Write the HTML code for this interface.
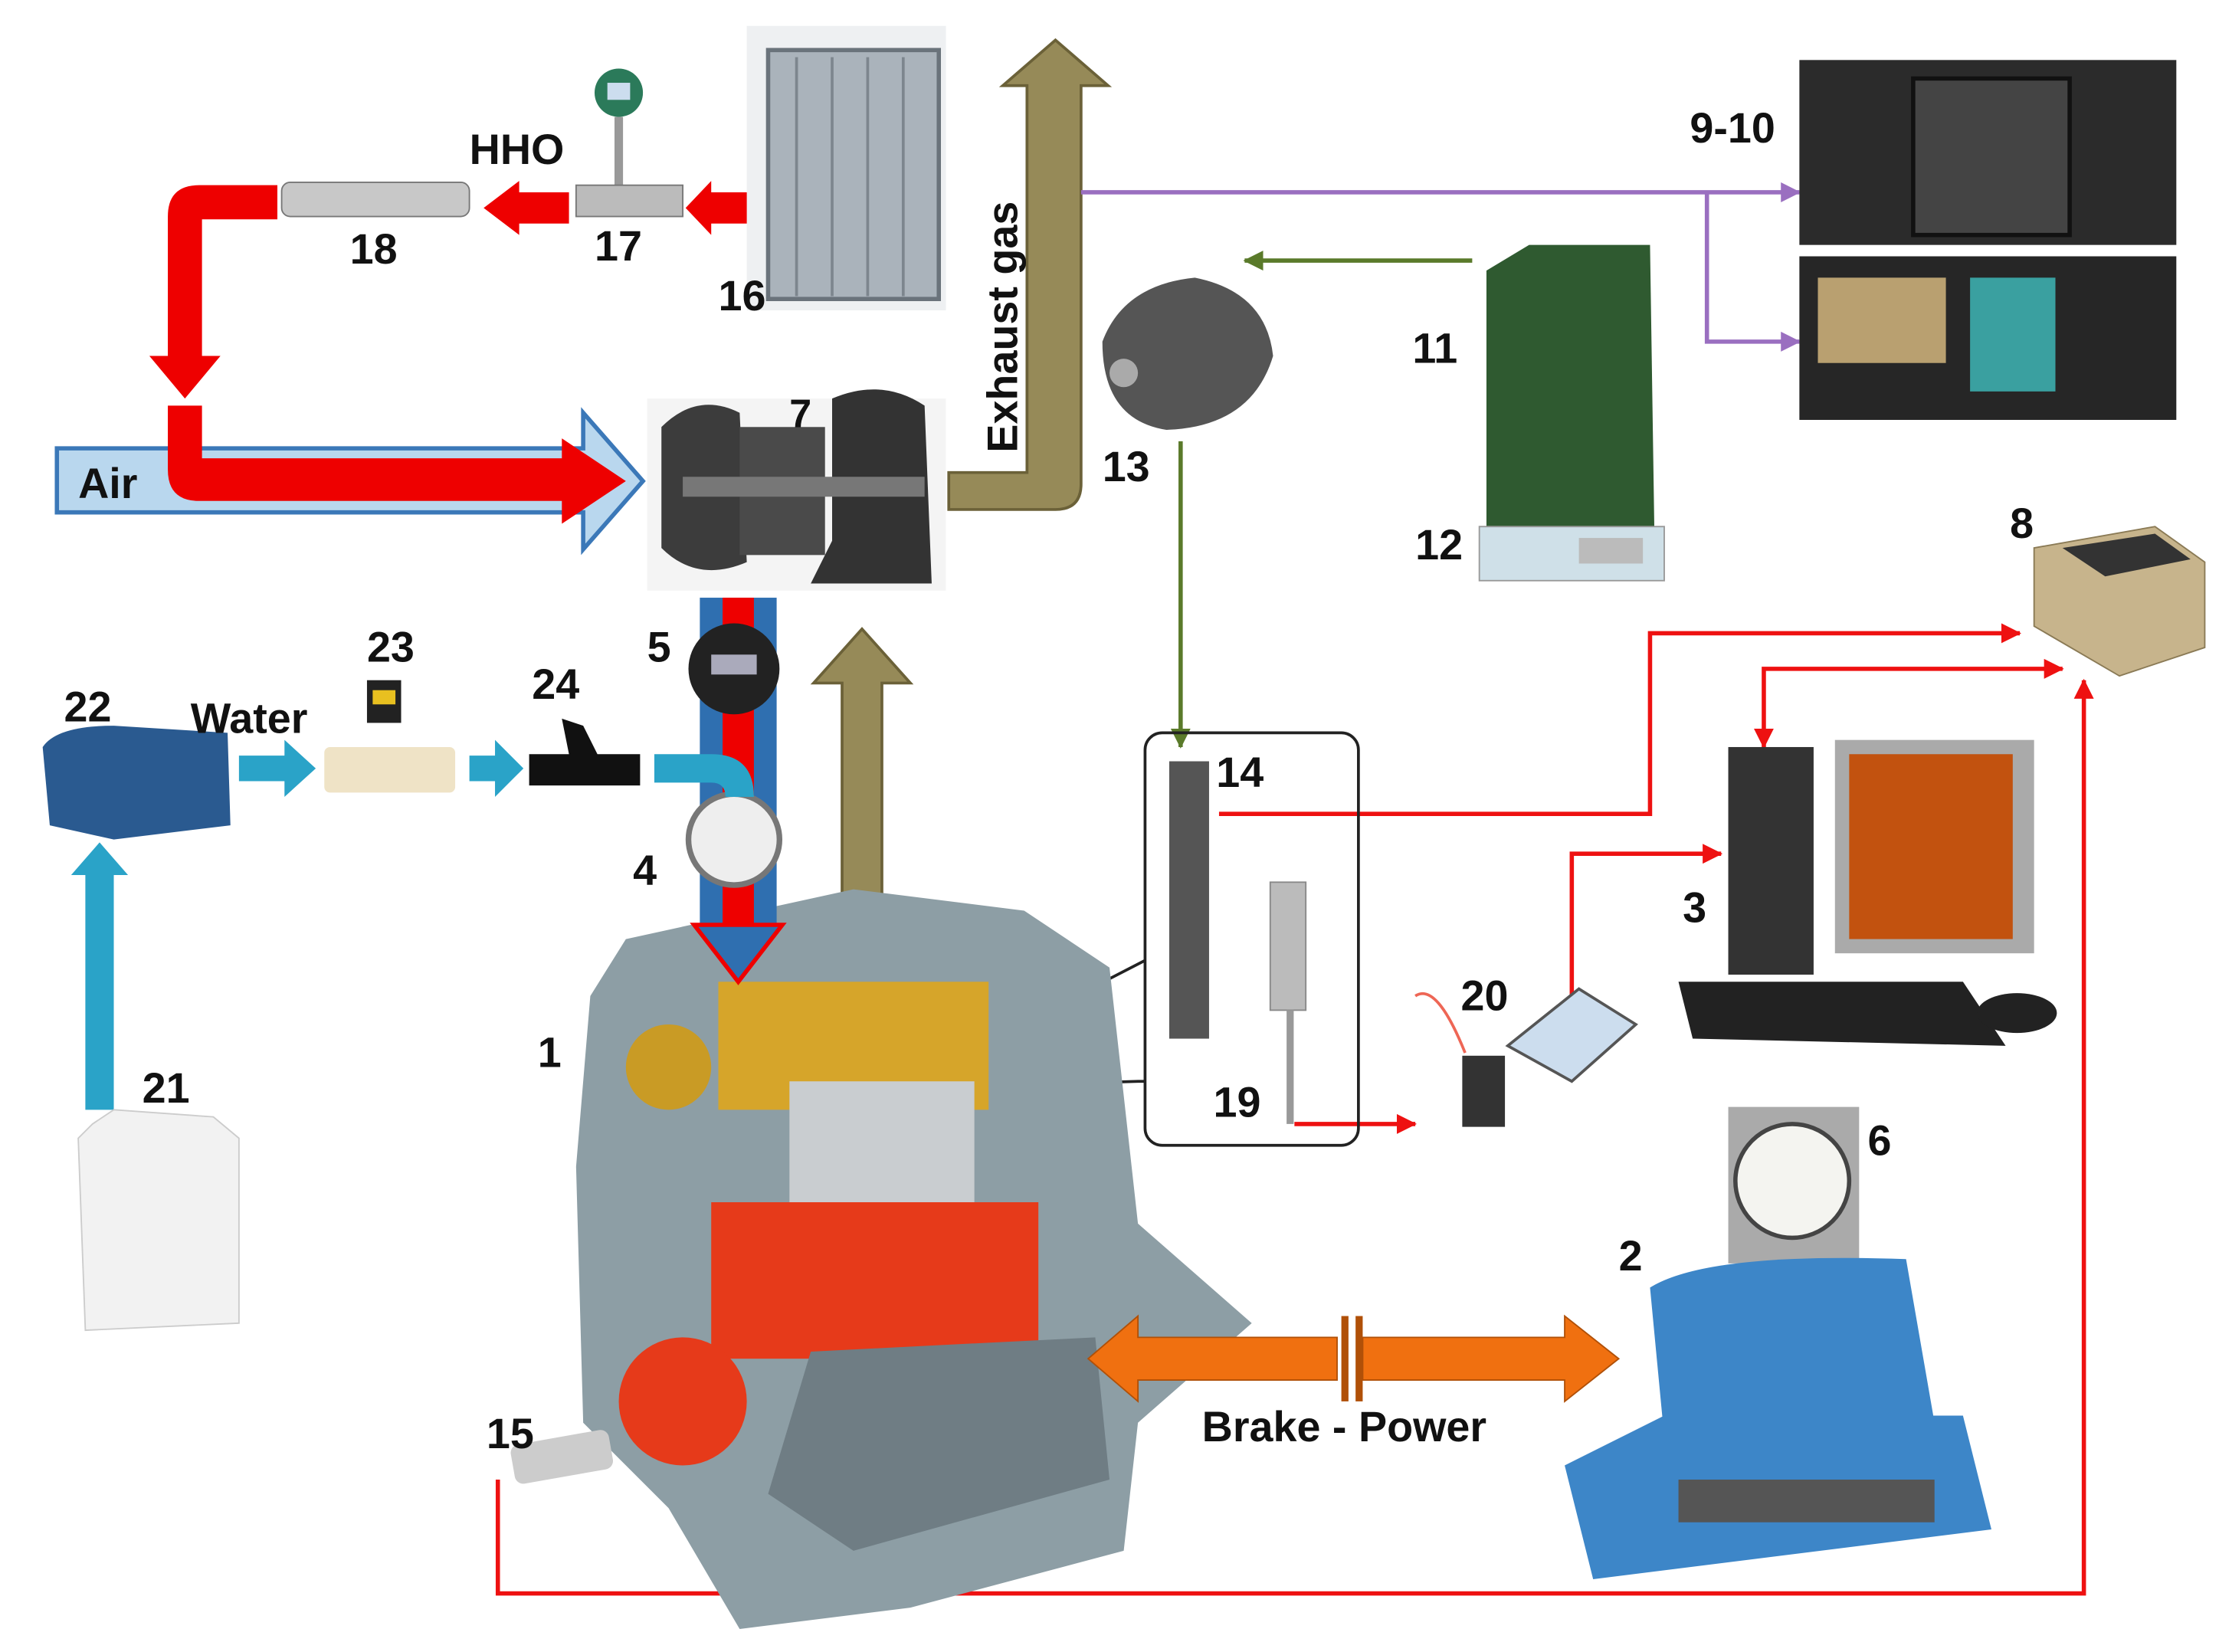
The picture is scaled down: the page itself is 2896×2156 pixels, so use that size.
<!DOCTYPE html>
<html><head><meta charset="utf-8"><style>
html,body{margin:0;padding:0;background:#fff}
svg{display:block}
text{font-family:"Liberation Sans",sans-serif;font-weight:bold;fill:#111}
</style></head><body>
<svg width="2896" height="2156" viewBox="0 0 1560 1161" xmlns="http://www.w3.org/2000/svg">
<defs>
<marker id="rh" markerWidth="8" markerHeight="8" refX="7" refY="4" orient="auto" markerUnits="userSpaceOnUse"><path d="M0,0 L8,4 L0,8z" fill="#e11"/></marker>
<marker id="rhb" markerWidth="14" markerHeight="14" refX="13" refY="7" orient="auto" markerUnits="userSpaceOnUse"><path d="M0,0 L14,7 L0,14z" fill="#e11"/></marker>
<marker id="rhs" markerWidth="14" markerHeight="14" refX="1" refY="7" orient="auto" markerUnits="userSpaceOnUse"><path d="M14,0 L0,7 L14,14z" fill="#e11"/></marker>
<marker id="ph" markerWidth="14" markerHeight="14" refX="13" refY="7" orient="auto" markerUnits="userSpaceOnUse"><path d="M0,0 L14,7 L0,14z" fill="#9a6fc0"/></marker>
<marker id="gh" markerWidth="14" markerHeight="14" refX="13" refY="7" orient="auto" markerUnits="userSpaceOnUse"><path d="M0,0 L14,7 L0,14z" fill="#5a7a2a"/></marker>
</defs>
<rect width="1560" height="1161" fill="#fff"/>

<!-- HHO electrolyzer 16 -->
<rect x="525" y="18" width="140" height="200" fill="#eef0f2"/>
<rect x="540" y="35" width="120" height="175" fill="#aab3bb" stroke="#6a737b" stroke-width="3"/>
<g stroke="#7d868e" stroke-width="2"><line x1="560" y1="40" x2="560" y2="208"/><line x1="585" y1="40" x2="585" y2="208"/><line x1="610" y1="40" x2="610" y2="208"/><line x1="635" y1="40" x2="635" y2="208"/></g>
<!-- 17 flowmeter -->
<circle cx="435" cy="65" r="17" fill="#2b7a5a"/><rect x="427" y="58" width="16" height="12" fill="#cde"/>
<rect x="432" y="82" width="6" height="50" fill="#999"/>
<rect x="405" y="130" width="75" height="22" fill="#bbb" stroke="#777"/>
<!-- 18 -->
<rect x="198" y="128" width="132" height="24" rx="6" fill="#c8c8c8" stroke="#777"/>
<!-- red HHO arrows -->
<path d="M525,135 L525,157 L500,157 L500,165 L482,146 L500,127 L500,135z" fill="#e00"/>
<path d="M400,135 L400,157 L365,157 L365,165 L340,146 L365,127 L365,135z" fill="#e00"/>
<!-- red loop down -->
<path d="M195,130 L140,130 Q118,130 118,152 L118,250 L105,250 L130,280 L155,250 L142,250 L142,154 L195,154z" fill="#e00"/>

<!-- Air arrow -->
<path d="M40,315 L410,315 L410,290 L452,338 L410,386 L410,360 L40,360z" fill="#b9d7ee" stroke="#3b78b8" stroke-width="3"/>
<path d="M118,285 L142,285 L142,322 L395,322 L395,308 L440,338 L395,368 L395,352 L140,352 Q118,352 118,330z" fill="#e00"/>
<text x="55" y="350" font-size="30">Air</text>

<!-- Turbo 7 -->
<rect x="455" y="280" width="210" height="135" fill="#f4f4f4"/>
<path d="M465,300 Q490,275 520,290 L525,395 Q490,410 465,385z" fill="#3c3c3c"/>
<rect x="520" y="300" width="60" height="90" fill="#4a4a4a"/>
<path d="M585,280 Q620,265 650,285 L655,410 L570,410 L585,380z" fill="#333"/>
<rect x="480" y="335" width="170" height="14" fill="#777"/>
<text x="555" y="300" font-size="28">7</text>

<!-- Exhaust -->
<path d="M667,332 L722,332 L722,60 L705,60 L742,28 L779,60 L760,60 L760,340 Q760,358 742,358 L667,358z" fill="#968a58" stroke="#6b6138" stroke-width="2"/>
<text transform="translate(715,318) rotate(-90)" font-size="30">Exhaust gas</text>
<path d="M592,640 L592,480 L572,480 L606,442 L640,480 L620,480 L620,640z" fill="#968a58" stroke="#6b6138" stroke-width="2"/>

<!-- purple -->
<line x1="760" y1="135" x2="1265" y2="135" stroke="#9a6fc0" stroke-width="3" marker-end="url(#ph)"/>
<polyline points="1200,135 1200,240 1265,240" fill="none" stroke="#9a6fc0" stroke-width="3" marker-end="url(#ph)"/>
<!-- 9-10 -->
<rect x="1265" y="42" width="265" height="130" fill="#2b2b2b"/>
<rect x="1345" y="55" width="110" height="110" fill="#444" stroke="#111" stroke-width="3"/>
<rect x="1265" y="180" width="265" height="115" fill="#262626"/>
<rect x="1278" y="195" width="90" height="60" fill="#b9a070"/>
<g fill="#3aa0a0"><rect x="1385" y="195" width="60" height="80"/></g>
<text x="1188" y="100" font-size="30">9-10</text>

<!-- green fuel -->
<line x1="1035" y1="183" x2="875" y2="183" stroke="#5a7a2a" stroke-width="3" marker-end="url(#gh)"/>
<line x1="830" y1="310" x2="830" y2="525" stroke="#5a7a2a" stroke-width="3" marker-end="url(#gh)"/>
<!-- pump 13 -->
<path d="M775,240 Q790,200 840,195 Q890,205 895,250 Q880,300 820,302 Q775,295 775,240z" fill="#555"/>
<circle cx="790" cy="262" r="10" fill="#aaa"/>
<text x="775" y="338" font-size="30">13</text>
<!-- jerry can 11 -->
<path d="M1045,190 L1075,172 L1160,172 L1163,370 L1045,370z" fill="#2f5a30"/>
<rect x="1040" y="370" width="130" height="38" fill="#cfe0e8" stroke="#999"/>
<rect x="1110" y="378" width="45" height="18" fill="#bbb"/>
<text x="993" y="255" font-size="30">11</text>
<text x="995" y="393" font-size="30">12</text>

<!-- 8 -->
<path d="M1430,385 L1515,370 L1550,395 L1550,455 L1490,475 L1430,440z" fill="#c7b48c" stroke="#8a7a55"/>
<path d="M1450,385 L1515,375 L1540,393 L1480,405z" fill="#333"/>
<text x="1413" y="378" font-size="30">8</text>

<!-- red signal lines -->
<polyline points="857,572 1160,572 1160,445 1420,445" fill="none" stroke="#e11" stroke-width="3" marker-end="url(#rhb)"/>
<polyline points="1240,525 1240,470 1450,470" fill="none" stroke="#e11" stroke-width="3" marker-end="url(#rhb)" marker-start="url(#rhs)"/>
<polyline points="1105,700 1105,600 1210,600" fill="none" stroke="#e11" stroke-width="3" marker-end="url(#rhb)"/>
<polyline points="910,790 995,790" fill="none" stroke="#e11" stroke-width="3" marker-end="url(#rhb)"/>
<polyline points="350,1040 350,1120 1465,1120 1465,478" fill="none" stroke="#e11" stroke-width="3" marker-end="url(#rhb)"/>

<!-- computer 3 -->
<rect x="1215" y="525" width="60" height="160" fill="#333"/>
<rect x="1290" y="520" width="140" height="150" fill="#aaa"/>
<rect x="1300" y="530" width="115" height="130" fill="#c2520f"/>
<path d="M1180,690 L1380,690 L1410,735 L1190,730z" fill="#222"/>
<ellipse cx="1418" cy="712" rx="28" ry="14" fill="#222"/>
<text x="1183" y="648" font-size="30">3</text>

<!-- 14/19 box -->
<rect x="805" y="515" width="150" height="290" rx="12" fill="none" stroke="#222" stroke-width="2"/>
<rect x="822" y="535" width="28" height="195" fill="#555"/>
<rect x="893" y="620" width="25" height="90" fill="#bbb" stroke="#888"/>
<line x1="907" y1="710" x2="907" y2="790" stroke="#999" stroke-width="5"/>
<polyline points="805,675 640,760" fill="none" stroke="#222" stroke-width="2"/>
<polyline points="805,760 800,760 640,765" fill="none" stroke="#222" stroke-width="2"/>
<text x="855" y="553" font-size="30">14</text>
<text x="853" y="785" font-size="30">19</text>
<!-- 20 -->
<rect x="1028" y="742" width="30" height="50" fill="#333"/>
<path d="M1060,735 L1110,695 L1150,720 L1105,760z" fill="#cde" stroke="#555" stroke-width="2"/>
<path d="M995,700 Q1010,690 1030,740" fill="none" stroke="#e65" stroke-width="2"/>
<text x="1027" y="710" font-size="30">20</text>

<!-- engine 1 -->
<path d="M415,700 L440,660 L600,625 L720,640 L780,680 L800,860 L880,930 L800,1000 L790,1090 L640,1130 L520,1145 L470,1060 L410,1000 L405,820z" fill="#8d9ea5"/>
<rect x="505" y="690" width="190" height="90" fill="#d6a52a"/>
<circle cx="470" cy="750" r="30" fill="#c99b25"/>
<rect x="555" y="760" width="130" height="90" fill="#c9cdd0"/>
<rect x="500" y="845" width="230" height="110" fill="#e63a1a"/>
<circle cx="480" cy="985" r="45" fill="#e63a1a"/>
<path d="M570,950 L770,940 L780,1040 L600,1090 L540,1050z" fill="#6f7d84"/>
<rect x="360" y="1010" width="70" height="28" rx="6" fill="#ccc" transform="rotate(-10 395 1024)"/>
<text x="378" y="750" font-size="30">1</text>
<text x="342" y="1018" font-size="30">15</text>

<!-- HHO/air pipe & gauges -->
<rect x="492" y="420" width="54" height="235" fill="#2f6fb0"/>
<rect x="508" y="420" width="22" height="235" fill="#e00"/>
<path d="M488,650 L550,650 L519,690z" fill="#2f6fb0" stroke="#e00" stroke-width="3"/>
<circle cx="516" cy="470" r="32" fill="#222"/><rect x="500" y="460" width="32" height="14" fill="#aab"/>
<circle cx="516" cy="590" r="32" fill="#eee" stroke="#777" stroke-width="4"/>
<text x="455" y="465" font-size="30">5</text>
<text x="445" y="622" font-size="30">4</text>

<!-- water -->
<path d="M460,530 L500,530 Q530,530 530,560 L510,560 Q510,550 500,550 L460,550z" fill="#2aa3c8"/>
<path d="M168,531 L200,531 L200,520 L222,540 L200,560 L200,549 L168,549z" fill="#2aa3c8"/>
<path d="M330,531 L348,531 L348,520 L368,540 L348,560 L348,549 L330,549z" fill="#2aa3c8"/>
<path d="M60,780 L60,615 L50,615 L70,592 L90,615 L80,615 L80,780z" fill="#2aa3c8"/>
<rect x="228" y="525" width="92" height="32" rx="4" fill="#efe3c6"/>
<rect x="258" y="478" width="24" height="30" fill="#222"/><rect x="262" y="485" width="16" height="10" fill="#e8c020"/>
<path d="M372,530 L400,530 L395,505 L410,510 L420,530 L450,530 L450,552 L372,552z" fill="#111"/>
<path d="M30,525 Q40,510 80,510 L160,515 L162,580 L80,590 L35,580z" fill="#2a5a90"/>
<path d="M65,790 L80,780 L150,785 L168,800 L168,930 L60,935 L55,800z" fill="#f2f2f2" stroke="#ccc"/>
<text x="45" y="507" font-size="30">22</text>
<text x="134" y="515" font-size="30">Water</text>
<text x="258" y="465" font-size="30">23</text>
<text x="374" y="491" font-size="30">24</text>
<text x="100" y="775" font-size="30">21</text>

<text x="330" y="115" font-size="30">HHO</text>
<text x="246" y="185" font-size="30">18</text>
<text x="418" y="183" font-size="30">17</text>
<text x="505" y="218" font-size="30">16</text>

<!-- brake power -->
<path d="M765,955 L800,925 L800,940 L940,940 L940,970 L800,970 L800,985z" fill="#f07010" stroke="#b05008"/>
<path d="M958,940 L1100,940 L1100,925 L1138,955 L1100,985 L1100,970 L958,970z" fill="#f07010" stroke="#b05008"/>
<rect x="943" y="925" width="5" height="60" fill="#b05008"/><rect x="953" y="925" width="5" height="60" fill="#b05008"/>
<text x="845" y="1013" font-size="30">Brake - Power</text>

<!-- dyno 2 -->
<rect x="1215" y="778" width="92" height="110" fill="#aaa"/>
<circle cx="1260" cy="830" r="40" fill="#f4f4f0" stroke="#444" stroke-width="3"/>
<path d="M1160,905 Q1200,880 1340,885 L1360,1000 L1170,1010z" fill="#3d86c8"/>
<path d="M1100,1030 L1170,995 L1380,995 L1400,1075 L1120,1110z" fill="#3d86c8"/>
<rect x="1180" y="1040" width="180" height="30" fill="#555"/>
<text x="1138" y="893" font-size="30">2</text>
<text x="1313" y="812" font-size="30">6</text>
</svg>
</body></html>
